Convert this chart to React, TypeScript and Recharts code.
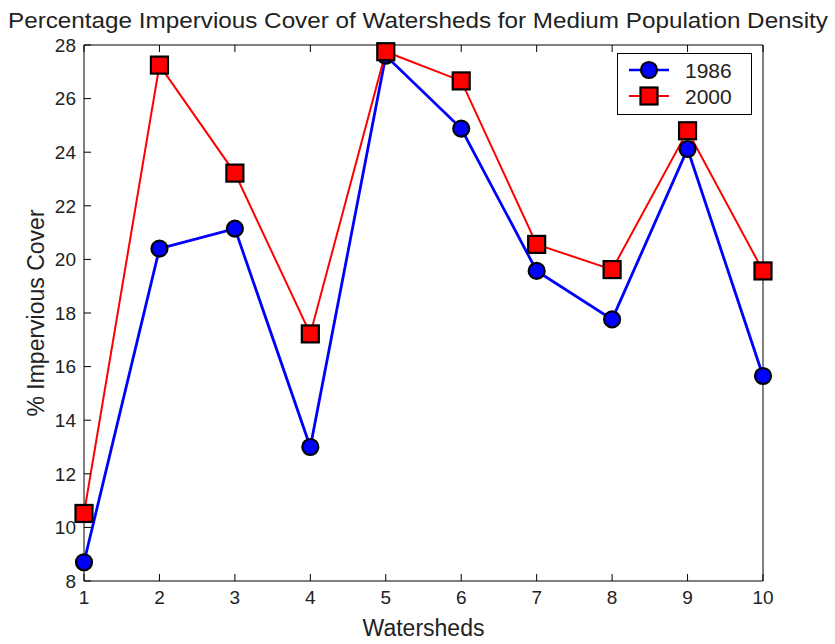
import { LineChart, Line, XAxis, YAxis } from 'recharts';

const watersheds = [1, 2, 3, 4, 5, 6, 7, 8, 9, 10];
const cover1986 = [8.7, 20.4, 21.15, 13.0, 27.6, 24.88, 19.57, 17.76, 24.12, 15.65];
const cover2000 = [10.52, 27.25, 23.22, 17.22, 27.75, 26.66, 20.56, 19.62, 24.8, 19.57];
const yTicks = [8, 10, 12, 14, 16, 18, 20, 22, 24, 26, 28];

const FONT = '"Liberation Sans", Arial, sans-serif';
const BLUE = '#0000ff';
const RED = '#ff0000';

const rows = watersheds.map((w, i) => ({ w, a: cover1986[i], b: cover2000[i] }));

function CircleDot(props: any) {
  const { cx, cy } = props;
  if (cx == null || cy == null) return null;
  return <circle cx={cx} cy={cy} r={8} fill={BLUE} stroke="#000" strokeWidth={2.2} />;
}

function SquareDot(props: any) {
  const { cx, cy } = props;
  if (cx == null || cy == null) return null;
  return <rect x={cx - 8.5} y={cy - 8.5} width={17} height={17} fill={RED} stroke="#000" strokeWidth={2.2} />;
}

function LegendBox() {
  return (
    <div style={{ position: 'absolute', left: 617, top: 53, width: 135, height: 62, border: '1px solid #000', background: '#fff', boxSizing: 'border-box' }}>
      <svg width={133} height={60} style={{ display: 'block' }}>
        <line x1={11} x2={51} y1={16} y2={16} stroke={BLUE} strokeWidth={2.5} />
        <circle cx={31} cy={16} r={8} fill={BLUE} stroke="#000" strokeWidth={2.2} />
        <text x={67} y={24} fontFamily={FONT} fontSize={21} fill="#222">1986</text>
        <line x1={11} x2={51} y1={42} y2={42} stroke={RED} strokeWidth={2} />
        <rect x={22.5} y={33.5} width={17} height={17} fill={RED} stroke="#000" strokeWidth={2.2} />
        <text x={67} y={50} fontFamily={FONT} fontSize={21} fill="#222">2000</text>
      </svg>
    </div>
  );
}

export default function App() {
  const tickStyle = { fontSize: 19, fill: '#222', fontFamily: FONT };
  return (
    <div style={{ position: 'absolute', left: 0, top: 0, width: 835, height: 644, background: '#fff' }}>
      <svg width={835} height={40} style={{ position: 'absolute', left: 0, top: 0 }}>
        <text x={8} y={28} fontFamily={FONT} fontSize={22} fill="#222" textLength={820} lengthAdjust="spacingAndGlyphs">
          Percentage Impervious Cover of Watersheds for Medium Population Density
        </text>
      </svg>
      <LineChart
        width={835}
        height={644}
        data={rows}
        margin={{ top: 44, right: 71, bottom: 8, left: 10 }}
        style={{ position: 'absolute', left: 0, top: 0 }}
      >
        <XAxis
          xAxisId="main"
          dataKey="w"
          type="number"
          domain={[1, 10]}
          ticks={watersheds}
          interval={0}
          height={55}
          stroke="#000"
          tickSize={-7}
          tickMargin={17}
          tick={tickStyle}
          label={{ value: 'Watersheds', position: 'insideBottom', offset: 0, style: { fontSize: 23, fill: '#222', fontFamily: FONT } }}
        />
        <XAxis
          xAxisId="top"
          orientation="top"
          dataKey="w"
          type="number"
          domain={[1, 10]}
          ticks={watersheds}
          interval={0}
          height={1}
          stroke="#000"
          tickSize={-7}
          tick={() => <g />}
        />
        <YAxis
          yAxisId="main"
          type="number"
          domain={[8, 28]}
          ticks={yTicks}
          interval={0}
          width={74}
          stroke="#000"
          tickSize={-7}
          tickMargin={15}
          tick={tickStyle}
          label={{ value: '% Impervious Cover', angle: -90, position: 'insideLeft', offset: 26, style: { textAnchor: 'middle', fontSize: 23, fill: '#222', fontFamily: FONT } }}
        />
        <YAxis
          yAxisId="right"
          orientation="right"
          type="number"
          domain={[8, 28]}
          ticks={yTicks}
          interval={0}
          width={1}
          stroke="#000"
          tickSize={-7}
          tick={() => <g />}
        />
        <Line
          xAxisId="main"
          yAxisId="main"
          dataKey="a"
          name="1986"
          type="linear"
          stroke={BLUE}
          strokeWidth={2.8}
          dot={<CircleDot />}
          activeDot={false}
          isAnimationActive={false}
        />
        <Line
          xAxisId="main"
          yAxisId="main"
          dataKey="b"
          name="2000"
          type="linear"
          stroke={RED}
          strokeWidth={2}
          dot={<SquareDot />}
          activeDot={false}
          isAnimationActive={false}
        />
      </LineChart>
      <LegendBox />
    </div>
  );
}
